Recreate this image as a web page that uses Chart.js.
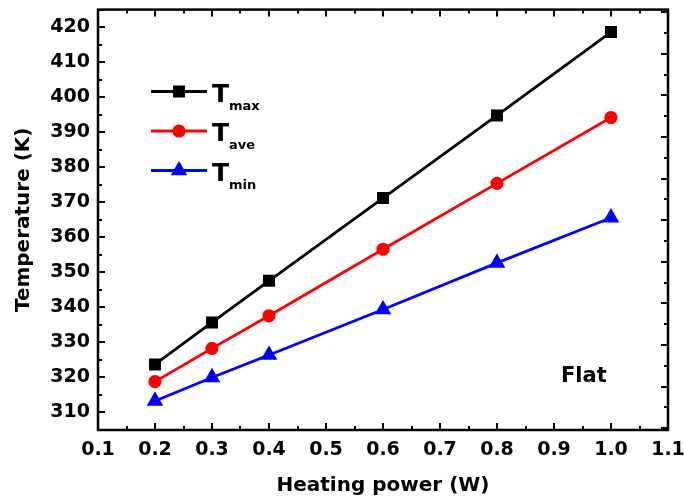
<!DOCTYPE html>
<html>
<head>
<meta charset="utf-8">
<script src="https://cdn.jsdelivr.net/npm/chart.js@4/dist/chart.umd.min.js"></script>
<style>
html,body{margin:0;padding:0;background:#fff;}
#wrap{width:684px;height:501px;position:relative;}
</style>
</head>
<body>
<div id="wrap"><canvas id="c" width="684" height="501"></canvas></div>
<script>
const powers = [0.2, 0.3, 0.4, 0.6, 0.8, 1.0];
const tMax = [323.7, 335.7, 347.6, 371.2, 394.8, 418.6];
const tAve = [318.8, 328.3, 337.6, 356.6, 375.4, 394.2];
const tMin = [313.3, 320.0, 326.4, 339.4, 352.7, 365.6];
const seriesNames = ['max', 'ave', 'min'];
const xTicks = [0.1, 0.2, 0.3, 0.4, 0.5, 0.6, 0.7, 0.8, 0.9, 1.0, 1.1];
const yTicks = [310, 320, 330, 340, 350, 360, 370, 380, 390, 400, 410, 420];
const annotationText = 'Flat';

const FONT = 'DejaVu Sans';

function pts(vals){ return powers.map((p,i)=>({x:p, y:vals[i]})); }
function noPad(s){ s.paddingLeft = 0; s.paddingRight = 0; s.paddingTop = 0; s.paddingBottom = 0; }

const frameTicks = {
  id: 'frameTicks',
  afterDraw(chart) {
    const ctx = chart.ctx;
    const a = chart.chartArea;
    const xs = chart.scales.x, ys = chart.scales.y, yr = chart.scales.yR;
    ctx.save();
    ctx.strokeStyle = '#000';
    ctx.lineWidth = 2;
    ctx.lineCap = 'butt';
    for (let v = 0.1; v <= 1.1001; v += 0.05) {
      const major = Math.abs(Math.round(v*10) - v*10) < 1e-6;
      const len = major ? 7 : 4;
      const px = Math.round(xs.getPixelForValue(v));
      ctx.beginPath();
      ctx.moveTo(px, a.bottom); ctx.lineTo(px, a.bottom - len);
      ctx.moveTo(px, a.top); ctx.lineTo(px, a.top + len);
      ctx.stroke();
    }
    for (let v = 305; v <= 425; v += 5) {
      const major = v % 10 === 0;
      const len = major ? 7 : 4;
      const py = Math.round(ys.getPixelForValue(v));
      ctx.beginPath();
      ctx.moveTo(a.left, py); ctx.lineTo(a.left + len, py);
      ctx.stroke();
    }
    for (let v = 0; v <= 10.001; v += 0.5) {
      const major = Math.abs(Math.round(v) - v) < 1e-6;
      const len = major ? 7 : 4;
      const py = Math.round(yr.getPixelForValue(v));
      if (py < a.top + 1 || py > a.bottom - 1) continue;
      ctx.beginPath();
      ctx.moveTo(a.right, py); ctx.lineTo(a.right - len, py);
      ctx.stroke();
    }
    ctx.lineWidth = 2.5;
    ctx.strokeRect(a.left, a.top, a.right - a.left, a.bottom - a.top);

    const sets = chart.data.datasets;
    const rowY = [91.5, 131, 170.5];
    const x0 = 151, x1 = 207, xm = 179;
    sets.forEach((ds, i) => {
      const y = rowY[i];
      ctx.strokeStyle = ds.borderColor;
      ctx.lineWidth = ds.borderWidth;
      ctx.beginPath(); ctx.moveTo(x0, y); ctx.lineTo(x1, y); ctx.stroke();
      ctx.fillStyle = ds.pointBackgroundColor;
      ctx.strokeStyle = ds.pointBorderColor;
      Chart.helpers.drawPoint(ctx, {pointStyle: ds.pointStyle, radius: ds.pointRadius, rotation: 0, borderWidth: 1}, xm, y);
      ctx.fillStyle = '#000';
      ctx.textBaseline = 'alphabetic';
      ctx.textAlign = 'left';
      ctx.font = 'bold 25px ' + FONT;
      ctx.fillText('T', 212, y + 10);
      ctx.font = 'bold 13px ' + FONT;
      ctx.fillText(seriesNames[i], 229, y + 18);
    });

    ctx.font = 'bold 21px ' + FONT;
    ctx.fillStyle = '#000';
    ctx.textAlign = 'left';
    ctx.textBaseline = 'alphabetic';
    ctx.fillText(annotationText, 561, 381.5);
    ctx.restore();
  }
};

new Chart(document.getElementById('c'), {
  type: 'line',
  data: {
    datasets: [
      {label: 'T_max', data: pts(tMax), borderColor: '#000000', backgroundColor: '#000000',
       pointBackgroundColor: '#000000', pointBorderColor: '#000000', pointStyle: 'rect', pointRadius: 6.5, borderWidth: 2.8},
      {label: 'T_ave', data: pts(tAve), borderColor: '#ff0000', backgroundColor: '#ff0000',
       pointBackgroundColor: '#ff0000', pointBorderColor: '#ff0000', pointStyle: 'circle', pointRadius: 5.2, borderWidth: 2.8},
      {label: 'T_min', data: pts(tMin), borderColor: '#0000ff', backgroundColor: '#0000ff',
       pointBackgroundColor: '#0000ff', pointBorderColor: '#0000ff', pointStyle: 'triangle', pointRadius: 6.8, borderWidth: 2.8}
    ]
  },
  options: {
    responsive: false,
    animation: false,
    events: [],
    layout: {padding: {left: 0, right: 16, top: 8, bottom: 0}},
    plugins: {legend: {display: false}, tooltip: {enabled: false}},
    elements: {line: {tension: 0}},
    scales: {
      x: {
        type: 'linear', position: 'bottom', min: 0.1, max: 1.1,
        afterBuildTicks: s => { s.ticks = xTicks.map(v => ({value: v})); },
        afterFit: s => { s.height = 71; noPad(s); },
        grid: {display: false, drawTicks: false},
        border: {display: false},
        ticks: {font: {family: FONT, size: 19, weight: 'bold'}, color: '#000', padding: 9, maxRotation: 0,
                callback: v => v.toFixed(1)},
        title: {display: true, text: 'Heating power (W)', color: '#000',
                font: {family: FONT, size: 20, weight: 'bold'}, padding: {top: 0, bottom: 3}}
      },
      y: {
        type: 'linear', position: 'left', min: 305, max: 425,
        afterBuildTicks: s => { s.ticks = yTicks.map(v => ({value: v})); },
        afterFit: s => { s.width = 98; noPad(s); },
        grid: {display: false, drawTicks: false},
        border: {display: false},
        ticks: {font: {family: FONT, size: 19, weight: 'bold'}, color: '#000', padding: 8,
                callback: v => String(v)},
        title: {display: true, text: 'Temperature (K)', color: '#000',
                font: {family: FONT, size: 20, weight: 'bold'}, padding: {top: 12, bottom: 0}}
      },
      yR: {
        type: 'linear', position: 'right', min: -0.043, max: 10.06,
        afterFit: s => { s.width = 0; noPad(s); },
        grid: {display: false, drawTicks: false},
        border: {display: false},
        ticks: {display: false}
      }
    }
  },
  plugins: [frameTicks]
});
</script>
</body>
</html>
